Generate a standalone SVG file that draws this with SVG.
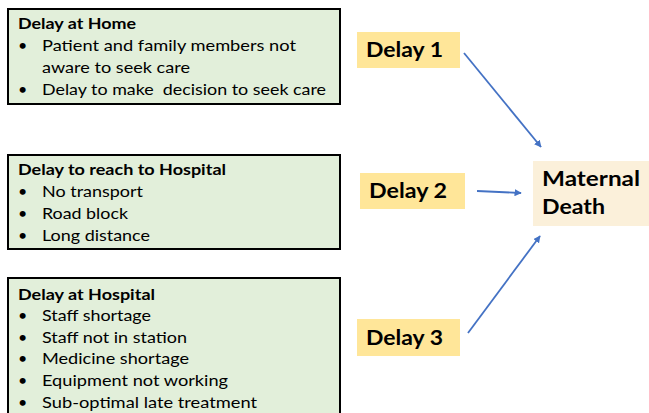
<svg xmlns="http://www.w3.org/2000/svg" width="649" height="413" viewBox="0 0 649 413">
<style>
.box{fill:#E2EFDA;stroke:#000;stroke-width:2}
.t{font-family:Lato,"Liberation Sans",sans-serif;font-size:16px;fill:#000}
.h{font-family:Lato,"Liberation Sans",sans-serif;font-size:15.5px;font-weight:bold;fill:#000}
.d{fill:#FFE699}
.dt{font-family:Lato,"Liberation Sans",sans-serif;font-size:21px;font-weight:bold;fill:#000}
.m{fill:#FBF0DA}
.c{stroke:#4472C4;stroke-width:1.8;fill:none;marker-end:url(#ah)}
</style>
<defs>
<marker id="ah" viewBox="0 0 10 10" refX="9" refY="5" markerWidth="4" markerHeight="4" orient="auto" markerUnits="strokeWidth">
<path d="M0,0 L10,5 L0,10 z" fill="#4472C4"/>
</marker>
</defs>
<g id="home">
<rect class="box" x="8" y="9" width="332" height="95"/>
<text class="h" x="18" y="29" textLength="118" lengthAdjust="spacingAndGlyphs">Delay at Home</text>
<text class="t" x="18" y="51">•</text>
<text class="t" x="42" y="51" textLength="254" lengthAdjust="spacingAndGlyphs">Patient and family members not</text>
<text class="t" x="42" y="73" textLength="148" lengthAdjust="spacingAndGlyphs">aware to seek care</text>
<text class="t" x="18" y="95">•</text>
<text class="t" x="42" y="95" textLength="284" lengthAdjust="spacingAndGlyphs" xml:space="preserve">Delay to make  decision to seek care</text>
</g>
<g id="reach">
<rect class="box" x="8" y="155" width="332" height="94"/>
<text class="h" x="18" y="175" textLength="208" lengthAdjust="spacingAndGlyphs">Delay to reach to Hospital</text>
<text class="t" x="18" y="197">•</text>
<text class="t" x="42" y="197" textLength="101" lengthAdjust="spacingAndGlyphs">No transport</text>
<text class="t" x="18" y="219">•</text>
<text class="t" x="42" y="219" textLength="86" lengthAdjust="spacingAndGlyphs">Road block</text>
<text class="t" x="18" y="241">•</text>
<text class="t" x="42" y="241" textLength="108" lengthAdjust="spacingAndGlyphs">Long distance</text>
</g>
<g id="hospital">
<rect class="box" x="8" y="278" width="332" height="145"/>
<text class="h" x="18" y="300" textLength="137" lengthAdjust="spacingAndGlyphs">Delay at Hospital</text>
<text class="t" x="18" y="321">•</text>
<text class="t" x="42" y="321" textLength="109" lengthAdjust="spacingAndGlyphs">Staff shortage</text>
<text class="t" x="18" y="343">•</text>
<text class="t" x="42" y="343" textLength="145" lengthAdjust="spacingAndGlyphs">Staff not in station</text>
<text class="t" x="18" y="364">•</text>
<text class="t" x="42" y="364" textLength="147" lengthAdjust="spacingAndGlyphs">Medicine shortage</text>
<text class="t" x="18" y="386">•</text>
<text class="t" x="42" y="386" textLength="186" lengthAdjust="spacingAndGlyphs">Equipment not working</text>
<text class="t" x="18" y="408">•</text>
<text class="t" x="42" y="408" textLength="215" lengthAdjust="spacingAndGlyphs">Sub-optimal late treatment</text>
</g>
<g id="delay1">
<rect class="d" x="357" y="32" width="103" height="36"/>
<text class="dt" x="366" y="57" textLength="77" lengthAdjust="spacingAndGlyphs">Delay 1</text>
</g>
<g id="delay2">
<rect class="d" x="360" y="173" width="105" height="36"/>
<text class="dt" x="369" y="198" textLength="78" lengthAdjust="spacingAndGlyphs">Delay 2</text>
</g>
<g id="delay3">
<rect class="d" x="357" y="319" width="103" height="37"/>
<text class="dt" x="366" y="345" textLength="77" lengthAdjust="spacingAndGlyphs">Delay 3</text>
</g>
<g id="death">
<rect class="m" x="533" y="161" width="116" height="65"/>
<text class="dt" x="542" y="186" textLength="98" lengthAdjust="spacingAndGlyphs">Maternal</text>
<text class="dt" x="542" y="214" textLength="63" lengthAdjust="spacingAndGlyphs">Death</text>
</g>
<g id="connectors">
<line class="c" x1="464" y1="53" x2="541" y2="147"/>
<line class="c" x1="477" y1="191" x2="521" y2="193"/>
<line class="c" x1="468" y1="333" x2="540" y2="236"/>
</g>
</svg>
